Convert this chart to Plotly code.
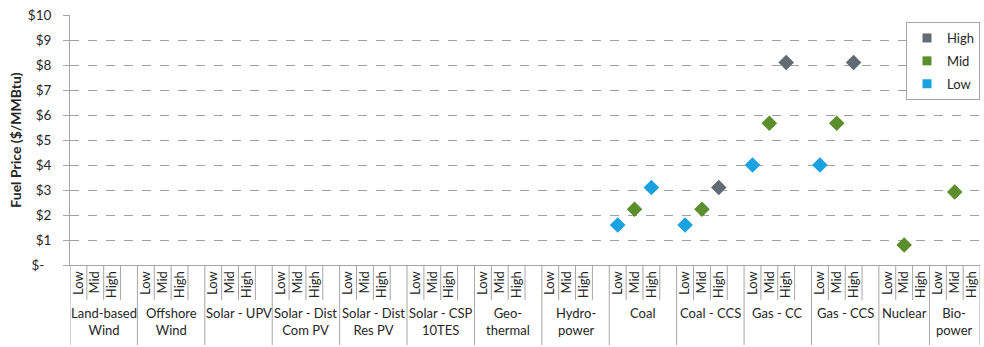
import plotly.graph_objects as go

# ---- data ----
groups = ["Land-based Wind", "Offshore Wind", "Solar - UPV", "Solar - Dist Com PV",
          "Solar - Dist Res PV", "Solar - CSP 10TES", "Geothermal", "Hydropower",
          "Coal", "Coal - CCS", "Gas - CC", "Gas - CCS", "Nuclear", "Biopower"]
group_labels = ["Land-based<br>Wind", "Offshore<br>Wind", "Solar - UPV", "Solar - Dist<br>Com PV",
                "Solar - Dist<br>Res PV", "Solar - CSP<br>10TES", "Geo-<br>thermal", "Hydro-<br>power",
                "Coal", "Coal - CCS", "Gas - CC", "Gas - CCS", "Nuclear", "Bio-<br>power"]
group_slots = [4] * 12 + [3, 3]
cases = ["Low", "Mid", "High"]

low_groups = ["Coal", "Coal", "Coal - CCS", "Gas - CC", "Gas - CCS"]
low_cases = ["Low", "High", "Low", "Low", "Low"]
low_values = [1.6, 3.1, 1.6, 4.0, 4.0]

mid_groups = ["Coal", "Coal - CCS", "Gas - CC", "Gas - CCS", "Nuclear", "Biopower"]
mid_cases = ["Mid", "Mid", "Mid", "Mid", "Mid", "Mid"]
mid_values = [2.23, 2.23, 5.67, 5.67, 0.8, 2.92]

high_groups = ["Coal - CCS", "Gas - CC", "Gas - CCS"]
high_cases = ["High", "High", "High"]
high_values = [3.1, 8.1, 8.1]

y_ticks = [0, 1, 2, 3, 4, 5, 6, 7, 8, 9, 10]
y_ticktext = ["$-\u00a0\u00a0", "$1", "$2", "$3", "$4", "$5", "$6", "$7", "$8", "$9", "$10"]

colors = {"High": "#626A74", "Mid": "#5B8E2C", "Low": "#19A2DF"}
FONT = "Lato"
LINE = "#A6A6A6"
TXT = "#262626"

# ---- slot positions ----
starts = []
s = 0
for n in group_slots:
    starts.append(s)
    s += n
total_slots = s
gstart = dict(zip(groups, starts))


def xpos(g, c):
    return gstart[g] + cases.index(c) + 0.5


fig = go.Figure()
series = [("Low", low_groups, low_cases, low_values),
          ("Mid", mid_groups, mid_cases, mid_values),
          ("High", high_groups, high_cases, high_values)]
for name, gs, cs, vs in series:
    fig.add_trace(go.Scatter(
        x=[xpos(g, c) for g, c in zip(gs, cs)], y=vs, mode="markers",
        marker=dict(symbol="diamond", size=12, color=colors[name]),
        showlegend=False, hoverinfo="y"))

for name in ["High", "Mid", "Low"]:
    fig.add_trace(go.Scatter(
        x=[None], y=[None], mode="markers", name=name, legendgroup=name,
        marker=dict(symbol="square", size=9, color=colors[name])))

tickvals, ticktext = [], []
for g, st, n in zip(groups, starts, group_slots):
    for j, c in enumerate(cases):
        tickvals.append(st + j + 0.5)
        ticktext.append(c)

shapes = []
for st, n in zip(starts, group_slots):
    shapes.append(dict(type="line", xref="x", yref="paper", x0=st, x1=st, y0=0, y1=-0.32,
                       line=dict(color=LINE, width=1)))
    for k in range(1, n):
        shapes.append(dict(type="line", xref="x", yref="paper", x0=st + k, x1=st + k, y0=0, y1=-0.14,
                           line=dict(color=LINE, width=1)))
shapes.append(dict(type="line", xref="x", yref="paper", x0=total_slots, x1=total_slots, y0=0, y1=-0.32,
                   line=dict(color=LINE, width=1)))

annotations = []
for lab, st, n in zip(group_labels, starts, group_slots):
    annotations.append(dict(x=st + n / 2, y=-0.15, xref="x", yref="paper", text=lab,
                            showarrow=False, xanchor="center", yanchor="top",
                            font=dict(family=FONT, size=13, color=TXT)))

fig.update_layout(
    width=984, height=347,
    margin=dict(l=70, r=4, t=15, b=82),
    paper_bgcolor="white", plot_bgcolor="white",
    font=dict(family=FONT, size=13, color=TXT),
    shapes=shapes, annotations=annotations,
    legend=dict(x=1, xanchor="right", y=0.972, yanchor="top",
                bordercolor="#A6A6A6", borderwidth=1, bgcolor="white",
                font=dict(family=FONT, size=13, color=TXT),
                tracegroupgap=3, itemwidth=30),
    xaxis=dict(range=[0, total_slots], tickmode="array", tickvals=tickvals, ticktext=ticktext,
               tickangle=-90, showgrid=False, zeroline=False, showline=True, linecolor=LINE,
               ticks="", automargin=False,
               tickfont=dict(family=FONT, size=13, color=TXT)),
    yaxis=dict(range=[0, 10], tickmode="array", tickvals=y_ticks, ticktext=y_ticktext,
               showgrid=True, gridcolor="#A0A0A0", griddash="dash", zeroline=False,
               showline=True, linecolor=LINE, ticks="outside", ticklen=6, tickcolor=LINE,
               ticklabelstandoff=9, automargin=False,
               tickfont=dict(family=FONT, size=13.5, color=TXT),
               title=dict(text="<b>Fuel Price ($/MMBtu)</b>", standoff=2,
                          font=dict(family=FONT, size=14, color=TXT))),
)

fig.write_html("out.html", config={"displayModeBar": False},
               post_script="document.body.style.margin='0';document.body.style.overflow='hidden';")
